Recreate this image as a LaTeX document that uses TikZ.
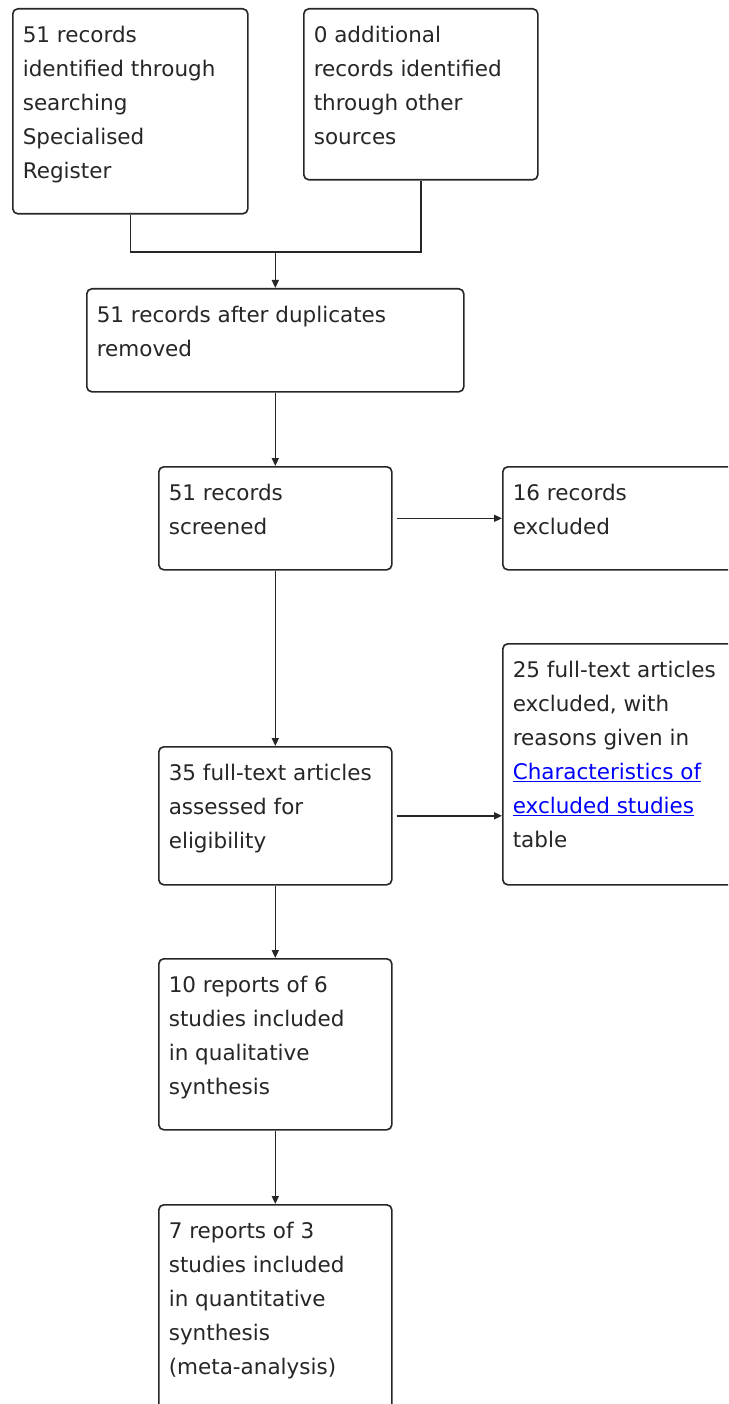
\documentclass[tikz,border=0pt]{standalone}
\usepackage{fontspec}
\setmainfont{DejaVu Sans}
\usepackage{xcolor}
\colorlet{colorLine}{black!85}
\colorlet{colorLink}{blue}
\usepackage{tikz}
\usetikzlibrary{arrows.meta, positioning}
\tikzset{flowbox/.style={draw=colorLine, rounded corners=5pt, anchor=north west, inner xsep=10pt, inner ysep=0pt, font=\fontsize{21.5pt}{34pt}\selectfont}}
\newcommand{\boxtext}[3]{\parbox[t][#2][t]{#1}{\rule{0pt}{34pt}#3}}
\newcommand{\linktext}[1]{\textcolor{colorLink}{\underline{#1}}}

\begin{document}
\begin{tikzpicture}[>={Triangle[length=8pt,width=7pt]}, x=1pt, y=-1pt, line width=1.6pt, colorLine]
\useasboundingbox (0,0) rectangle (728,1404);
\clip (0,0) rectangle (728,1404);
\node[flowbox] (r1) at (12,8) {\boxtext{215pt}{205pt}{51 records\\identified through\\searching\\Specialised\\Register}};
\node[flowbox] (r2) at (303,8) {\boxtext{214pt}{171pt}{0 additional\\records identified\\through other\\sources}};
\node[flowbox] (r3) at (86,288) {\boxtext{357pt}{103pt}{51 records after duplicates\\removed}};
\node[flowbox] (r4) at (158,466) {\boxtext{213pt}{103pt}{51 records\\screened}};
\node[flowbox] (r5) at (502,466) {\boxtext{220pt}{103pt}{16 records\\excluded}};
\node[flowbox] (r6) at (158,746) {\boxtext{213pt}{138pt}{35 full-text articles\\assessed for\\eligibility}};
\node[flowbox] (r7) at (502,643) {\boxtext{220pt}{241pt}{25 full-text articles\\excluded, with\\reasons given in\\\linktext{Characteristics of}\\\linktext{excluded studies}\\table}};
\node[flowbox] (r8) at (158,958) {\boxtext{213pt}{171pt}{10 reports of 6\\studies included\\in qualitative\\synthesis}};
\node[flowbox] (r9) at (158,1204) {\boxtext{213pt}{230pt}{7 reports of 3\\studies included\\in quantitative\\synthesis\\(meta-analysis)}};
\coordinate (j12) at (r3.north |- 0,252);
\draw (r1.south) |- (j12) -| (r2.south);
\draw [->] (j12) -- (r3.north);
\draw [->] (r3.south) -- (r4.north);
\draw [->] ([xshift=4pt]r4.east) -- (r5.west);
\draw [->] (r4.south) -- (r6.north);
\draw [->] ([xshift=4pt]r6.east) -- (r6.east -| r7.west);
\draw [->] (r6.south) -- (r8.north);
\draw [->] (r8.south) -- (r9.north);
\end{tikzpicture}
\end{document}
